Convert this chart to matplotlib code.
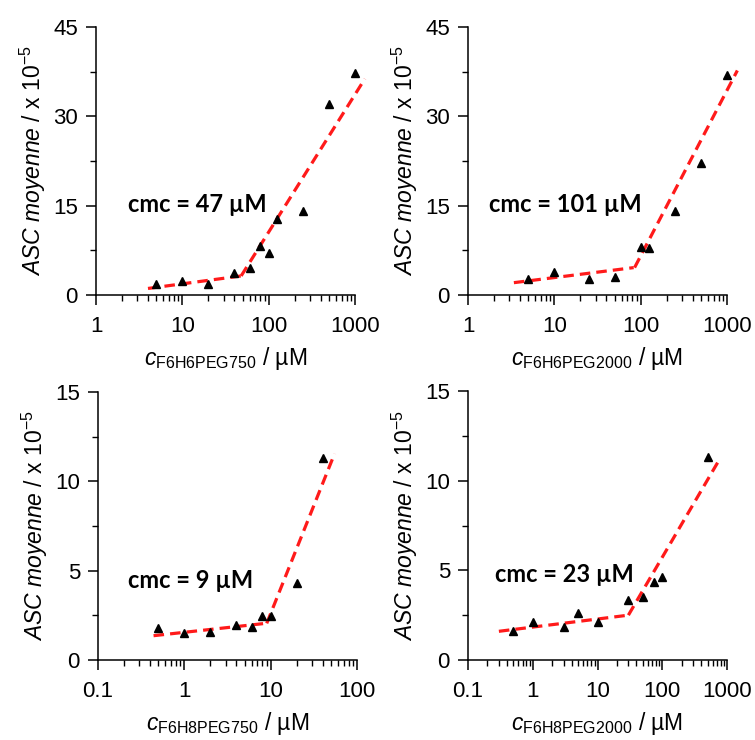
import matplotlib
matplotlib.use("Agg")
import matplotlib.pyplot as plt
from matplotlib.ticker import FixedLocator, LogLocator, NullFormatter, FuncFormatter

plt.rcParams['font.family'] = ['Liberation Sans', 'DejaVu Sans']
plt.rcParams['mathtext.fontset'] = 'custom'
plt.rcParams['mathtext.rm'] = 'Liberation Sans'
plt.rcParams['mathtext.it'] = 'Liberation Sans:italic'
plt.rcParams['mathtext.bf'] = 'Liberation Sans:bold'

# ---------------- data ----------------
names = ["F6H6PEG750", "F6H6PEG2000", "F6H8PEG750", "F6H8PEG2000"]
cmc_labels = ["cmc = 47 µM", "cmc = 101 µM", "cmc = 9 µM", "cmc = 23 µM"]

x1 = [5, 10, 20, 40, 60, 80, 100, 125, 250, 500, 1000]
y1 = [1.8, 2.4, 1.8, 3.7, 4.6, 8.2, 7.0, 12.7, 14.1, 32.1, 37.2]
x2 = [5, 10, 25, 50, 100, 125, 250, 500, 1000]
y2 = [2.7, 3.9, 2.7, 3.1, 8.1, 7.9, 14.1, 22.2, 36.9]
x3 = [0.5, 1, 2, 4, 6, 8, 10, 20, 40]
y3 = [1.77, 1.49, 1.58, 1.96, 1.83, 2.48, 2.48, 4.32, 11.33]
x4 = [0.5, 1, 3, 5, 10, 30, 50, 75, 100, 500]
y4 = [1.62, 2.10, 1.86, 2.64, 2.14, 3.35, 3.53, 4.33, 4.65, 11.34]

# fitted lines (pre-cmc segment and post-cmc segment)
low1_x, low1_y = [4.0, 48], [1.1, 3.2]
high1_x, high1_y = [48, 1300], [3.2, 36.3]
low2_x, low2_y = [3.4, 83], [2.07, 4.6]
high2_x, high2_y = [85, 1318], [4.6, 37.7]
low3_x, low3_y = [0.44, 8.7], [1.36, 2.05]
high3_x, high3_y = [9.0, 55], [2.05, 11.55]
low4_x, low4_y = [0.30, 30], [1.6, 2.5]
high4_x, high4_y = [30, 770], [2.5, 11.2]

xs = [x1, x2, x3, x4]
ys = [y1, y2, y3, y4]
lows = [(low1_x, low1_y), (low2_x, low2_y), (low3_x, low3_y), (low4_x, low4_y)]
highs = [(high1_x, high1_y), (high2_x, high2_y), (high3_x, high3_y), (high4_x, high4_y)]
xlims = [(1, 1000), (1, 1000), (0.1, 100), (0.1, 1000)]
ylims = [45, 45, 15, 15]
yticks = [[0, 15, 30, 45], [0, 15, 30, 45], [0, 5, 10, 15], [0, 5, 10, 15]]

W, H = 755, 740
fig = plt.figure(figsize=(W / 100, H / 100), dpi=100)

# axes boxes in pixels: left, right, top, bottom
boxes = [(96, 355, 27, 295), (468, 727, 27, 295),
         (98, 357, 392, 660), (468, 727, 391, 660)]
text_pos = [(128, 204), (489, 204), (128, 581), (495, 574)]


def fmt(v, pos):
    if v < 1:
        return f"{v:g}"
    return f"{int(round(v))}"


for i in range(4):
    l, r, t, b = boxes[i]
    ax = fig.add_axes([l / W, 1 - b / H, (r - l) / W, (b - t) / H])
    ax.set_xscale('log')
    ax.set_xlim(*xlims[i])
    ax.set_ylim(0, ylims[i])
    lx, ly = lows[i]
    hx, hy = highs[i]
    dash = (0, (3.3, 1.9))
    ax.plot(lx, ly, color='#ff1a1a', lw=2.3, linestyle=dash, clip_on=False, zorder=2)
    ax.plot(hx, hy, color='#ff1a1a', lw=2.3, linestyle=dash, clip_on=False, zorder=2)
    ax.plot(xs[i], ys[i], linestyle='none', marker='^', color='black',
            markersize=6, clip_on=False, zorder=3)

    for s in ['top', 'right']:
        ax.spines[s].set_visible(False)
    for s in ['left', 'bottom']:
        ax.spines[s].set_linewidth(1.1)

    ax.xaxis.set_major_locator(LogLocator(base=10, numticks=10))
    ax.xaxis.set_minor_locator(LogLocator(base=10, subs=range(2, 10), numticks=50))
    ax.xaxis.set_major_formatter(FuncFormatter(fmt))
    ax.xaxis.set_minor_formatter(NullFormatter())
    ax.yaxis.set_major_locator(FixedLocator(yticks[i]))
    step = yticks[i][1] / 2
    ax.yaxis.set_minor_locator(FixedLocator([step * k for k in range(1, 6, 2)]))

    ax.tick_params(which='major', direction='out', length=7, width=1.1,
                   labelsize=16)
    ax.tick_params(axis='x', which='major', pad=8)
    ax.tick_params(axis='y', which='major', pad=6)
    ax.tick_params(which='minor', direction='out', length=4, width=1.0)

    ax.set_ylabel(r'$ASC\ moyenne$ / x 10$^{-5}$', fontsize=16.5, labelpad=4)
    ax.set_xlabel(r'$c_{\mathrm{' + names[i] + r'}}$ / µM', fontsize=16.5, labelpad=6)

    tx, ty = text_pos[i]
    fig.text(tx / W, 1 - ty / H, cmc_labels[i], fontsize=17, fontweight='bold',
             family=['Lato', 'DejaVu Sans'], ha='left', va='center')

fig.savefig('out.png', dpi=100)
